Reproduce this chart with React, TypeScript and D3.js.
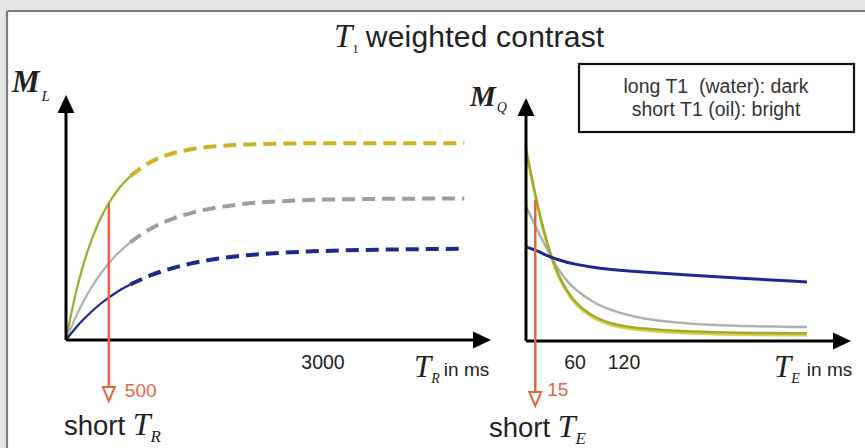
import React from "react";
import * as d3 from "d3";

// ---- Data ----
// Left panel: longitudinal magnetisation M_L vs repetition time T_R (ms)
const trValues = [0, 100, 200, 300, 400, 500, 600, 750, 1000, 1250, 1500, 2000, 2500, 3000, 4650];
const mlFat = [0, 17.4, 31.1, 41.8, 50.4, 57.1, 62.3, 68.2, 74.4, 77.8, 79.7, 81.3, 81.8, 82, 82];
const mlTissue = [0, 8.5, 15.8, 22.1, 27.4, 32.0, 35.9, 40.7, 46.6, 50.6, 53.3, 56.4, 57.8, 58.5, 59];
const mlWater = [0, 4.5, 8.4, 11.9, 15.0, 17.7, 20.1, 23.1, 27.1, 30.0, 32.2, 34.9, 36.3, 37.1, 38];
const solidUntilTR = 750;

// Right panel: transverse magnetisation M_Q vs echo time T_E (ms)
const teValues = [0, 10, 20, 30, 40, 50, 60, 80, 100, 130, 160, 200, 260, 344];
const mqFat = [80, 63, 48, 36, 27, 21, 16, 10.5, 7.5, 5.5, 4.7, 3.9, 3.4, 3.2];
const mqTissue = [56, 49, 42, 35.5, 29.5, 25, 21.5, 16.5, 13.2, 10.2, 8.5, 7.1, 6.2, 5.8];
const mqWater = [39.2, 38.2, 36.5, 35, 33.8, 32.8, 32, 30.8, 29.9, 29, 28.3, 27.5, 26.2, 24.6];

const trTicks = [3000];
const teTicks = [60, 120];
const trMarker = 500;
const teMarker = 15;

const title = "weighted contrast";
const legendLines = ["long T1  (water): dark", "short T1 (oil): bright"];

// ---- Styling ----
const W = 865;
const H = 448;
const SANS = "'Liberation Sans', Arial, sans-serif";
const SERIF = "'Liberation Serif', 'Times New Roman', serif";
const ORANGE = "#e2673f";
const C_FAT_SOLID = "#a3a92c";
const C_FAT_DASH = "#cdb225";
const C_TIS_SOLID = "#b0b0b0";
const C_TIS_DASH = "#9e9e9e";
const C_WAT = "#1b2a8f";
const TEXT = "#222";

export default function App() {
  // scales
  const xL = d3.scaleLinear().domain([0, 3000]).range([66, 323]);
  const yL = d3.scaleLinear().domain([0, 100]).range([340, 100]);
  const xR = d3.scaleLinear().domain([0, 120]).range([526, 624]);
  const yR = d3.scaleLinear().domain([0, 100]).range([341, 101]);

  const lineL = d3
    .line<[number, number]>()
    .x((d) => xL(d[0]))
    .y((d) => yL(d[1]))
    .curve(d3.curveMonotoneX);
  const lineR = d3
    .line<[number, number]>()
    .x((d) => xR(d[0]))
    .y((d) => yR(d[1]))
    .curve(d3.curveBasis);

  const pairs = (xs: number[], ys: number[]) => xs.map((x, i) => [x, ys[i]] as [number, number]);
  const solidPart = (p: [number, number][]) => p.filter((d) => d[0] <= solidUntilTR);
  const dashPart = (p: [number, number][]) => p.filter((d) => d[0] >= solidUntilTR);

  const leftSeries = [
    { data: pairs(trValues, mlFat), solid: C_FAT_SOLID, dash: C_FAT_DASH },
    { data: pairs(trValues, mlTissue), solid: C_TIS_SOLID, dash: C_TIS_DASH },
    { data: pairs(trValues, mlWater), solid: C_WAT, dash: C_WAT },
  ];

  // red marker heights
  const fatAt500 = mlFat[trValues.indexOf(trMarker)];
  const fatAt15 = d3.interpolateNumber(mqFat[1], mqFat[2])((teMarker - teValues[1]) / (teValues[2] - teValues[1]));

  const arrowUp = (x: number, tip: number) =>
    `M${x},${tip} L${x - 8.5},${tip + 18} L${x + 8.5},${tip + 18} Z`;
  const arrowRight = (tip: number, y: number) =>
    `M${tip},${y} L${tip - 18},${y - 8.5} L${tip - 18},${y + 8.5} Z`;
  const redArrow = (x: number, tip: number) =>
    `M${x},${tip} L${x - 6},${tip - 14} L${x + 6},${tip - 14} Z`;

  const yAxisL = xL(0);
  const xAxisL = yL(0);
  const yAxisR = xR(0);
  const xAxisR = yR(0);

  return (
    <svg
      width={W}
      height={H}
      viewBox={`0 0 ${W} ${H}`}
      style={{ position: "absolute", left: 0, top: 0, display: "block" }}
    >
      {/* page frame */}
      <rect x={0} y={0} width={W} height={H} fill="#e6e6e6" />
      <rect x={7} y={11} width={W - 7} height={H - 11} fill="#ffffff" />
      <line x1={7} y1={11} x2={W} y2={11} stroke="#7d7d7d" strokeWidth={2.2} />
      <line x1={7} y1={11} x2={7} y2={H} stroke="#7d7d7d" strokeWidth={2.2} />

      {/* title */}
      <text x={334} y={47} fill={TEXT}>
        <tspan fontFamily={SERIF} fontStyle="italic" fontSize={33}>T</tspan>
        <tspan fontFamily={SERIF} fontSize={13} dy={6}>1</tspan>
        <tspan fontFamily={SANS} fontSize={30} dy={-6} dx={7} letterSpacing={0.2}>{title}</tspan>
      </text>

      {/* ---------- LEFT PANEL ---------- */}
      {leftSeries.map((s, i) => (
        <g key={i}>
          <path d={lineL(solidPart(s.data)) || ""} fill="none" stroke={s.solid} strokeWidth={2.2} />
          <path
            d={lineL(dashPart(s.data)) || ""}
            fill="none"
            stroke={s.dash}
            strokeWidth={4}
            strokeDasharray="13,7"
          />
        </g>
      ))}

      {/* axes */}
      <line x1={yAxisL} y1={xAxisL} x2={yAxisL} y2={110} stroke="#000" strokeWidth={3} />
      <path d={arrowUp(yAxisL, 95)} fill="#000" />
      <line x1={yAxisL} y1={xAxisL} x2={476} y2={xAxisL} stroke="#000" strokeWidth={3} />
      <path d={arrowRight(491, xAxisL)} fill="#000" />

      {/* red marker TR */}
      <line x1={xL(trMarker)} y1={yL(fatAt500)} x2={xL(trMarker)} y2={388} stroke={ORANGE} strokeWidth={2.5} />
      <path d={redArrow(xL(trMarker), 401)} fill="#fff" stroke={ORANGE} strokeWidth={2} />
      <text x={xL(trMarker) + 16} y={397} fontFamily={SANS} fontSize={19} fill={ORANGE}>
        {trMarker}
      </text>

      {/* ticks */}
      {trTicks.map((t) => (
        <text key={t} x={xL(t)} y={369} textAnchor="middle" fontFamily={SANS} fontSize={19.5} fill={TEXT}>
          {t}
        </text>
      ))}

      {/* axis labels */}
      <text x={12} y={92} fill={TEXT}>
        <tspan fontFamily={SERIF} fontStyle="italic" fontWeight="bold" fontSize={31}>M</tspan>
        <tspan fontFamily={SERIF} fontStyle="italic" fontSize={15} dy={9} dx={2}>L</tspan>
      </text>
      <text x={414} y={377} fill={TEXT}>
        <tspan fontFamily={SERIF} fontStyle="italic" fontSize={31}>T</tspan>
        <tspan fontFamily={SERIF} fontStyle="italic" fontSize={14} dy={6}>R</tspan>
        <tspan fontFamily={SANS} fontSize={19} dy={-7} dx={4}>in ms</tspan>
      </text>
      <text x={64} y={435} fill={TEXT}>
        <tspan fontFamily={SANS} fontSize={27.5}>short </tspan>
        <tspan fontFamily={SERIF} fontStyle="italic" fontSize={32}>T</tspan>
        <tspan fontFamily={SERIF} fontStyle="italic" fontSize={17} dy={7}>R</tspan>
      </text>

      {/* ---------- RIGHT PANEL ---------- */}
      <path
        d={lineR(pairs(teValues, mqFat)) || ""}
        transform="translate(0,2)"
        fill="none"
        stroke="#d9cf4a"
        strokeWidth={2.5}
      />
      <path d={lineR(pairs(teValues, mqTissue)) || ""} fill="none" stroke={C_TIS_SOLID} strokeWidth={2.5} />
      <path d={lineR(pairs(teValues, mqFat)) || ""} fill="none" stroke={C_FAT_SOLID} strokeWidth={2.5} />
      <path d={lineR(pairs(teValues, mqWater)) || ""} fill="none" stroke={C_WAT} strokeWidth={3} />

      {/* axes */}
      <line x1={yAxisR} y1={xAxisR} x2={yAxisR} y2={113} stroke="#000" strokeWidth={3} />
      <path d={arrowUp(yAxisR, 98)} fill="#000" />
      <line x1={yAxisR} y1={xAxisR} x2={836} y2={xAxisR} stroke="#000" strokeWidth={3} />
      <path d={arrowRight(851, xAxisR)} fill="#000" />

      {/* red marker TE */}
      <line x1={xR(teMarker) - 3} y1={yR(fatAt15) - 8} x2={xR(teMarker) - 3} y2={392} stroke={ORANGE} strokeWidth={2.5} />
      <path d={redArrow(xR(teMarker) - 3, 406)} fill="#fff" stroke={ORANGE} strokeWidth={2} />
      <text x={xR(teMarker) + 9} y={396} fontFamily={SANS} fontSize={19} fill={ORANGE}>
        {teMarker}
      </text>

      {/* ticks */}
      {teTicks.map((t) => (
        <text key={t} x={xR(t)} y={369} textAnchor="middle" fontFamily={SANS} fontSize={19.5} fill={TEXT}>
          {t}
        </text>
      ))}

      {/* axis labels */}
      <text x={470} y={106} fill={TEXT}>
        <tspan fontFamily={SERIF} fontStyle="italic" fontWeight="bold" fontSize={29}>M</tspan>
        <tspan fontFamily={SERIF} fontStyle="italic" fontSize={14} dy={6} dx={1}>Q</tspan>
      </text>
      <text x={774} y={377} fill={TEXT}>
        <tspan fontFamily={SERIF} fontStyle="italic" fontSize={31}>T</tspan>
        <tspan fontFamily={SERIF} fontStyle="italic" fontSize={14} dy={6}>E</tspan>
        <tspan fontFamily={SANS} fontSize={19} dy={-7} dx={7}>in ms</tspan>
      </text>
      <text x={489} y={437} fill={TEXT}>
        <tspan fontFamily={SANS} fontSize={27.5}>short </tspan>
        <tspan fontFamily={SERIF} fontStyle="italic" fontSize={32}>T</tspan>
        <tspan fontFamily={SERIF} fontStyle="italic" fontSize={17} dy={7}>E</tspan>
      </text>

      {/* legend box */}
      <rect x={579} y={64} width={275} height={68} fill="#fff" stroke="#111" strokeWidth={2.2} />
      {legendLines.map((l, i) => (
        <text
          key={i}
          x={716}
          y={93 + i * 23}
          textAnchor="middle"
          fontFamily={SANS}
          fontSize={19.5}
          fill="#333"
          style={{ whiteSpace: "pre" }}
        >
          {l}
        </text>
      ))}
    </svg>
  );
}
